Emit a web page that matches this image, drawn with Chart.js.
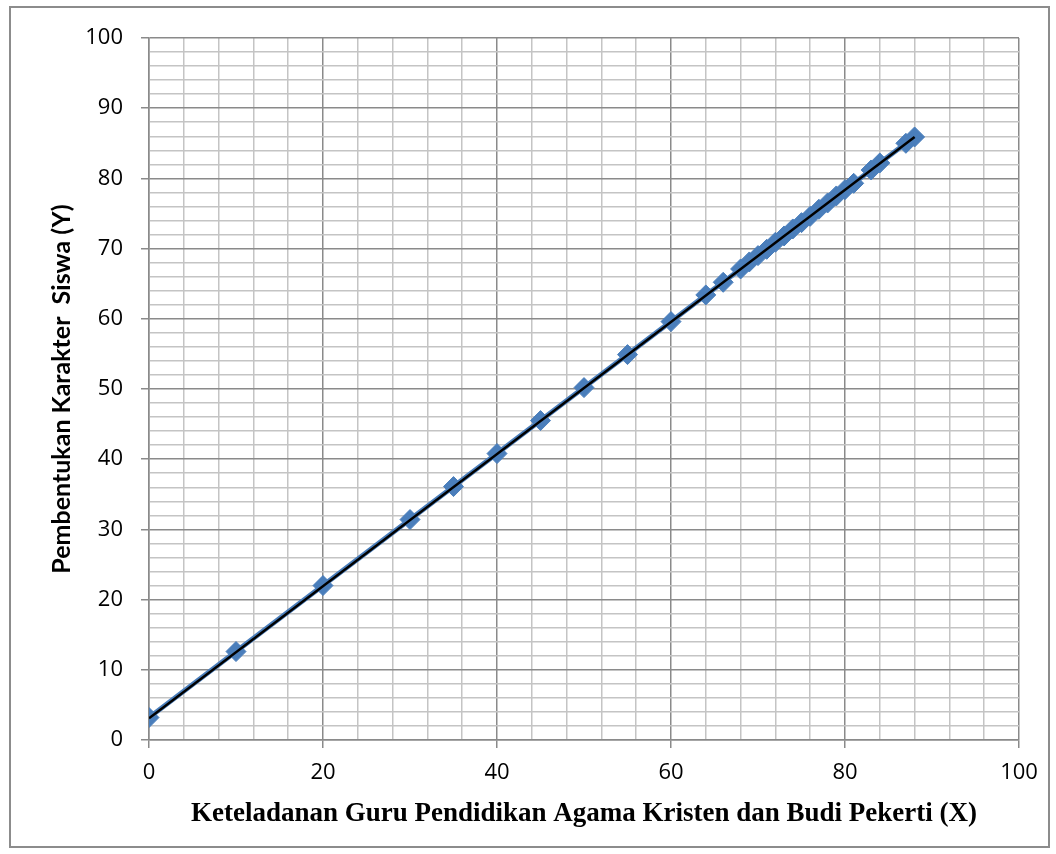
<!DOCTYPE html>
<html>
<head>
<meta charset="utf-8">
<script src="https://cdn.jsdelivr.net/npm/chart.js@4"></script>
<style>
  html, body { margin: 0; padding: 0; background: #fff; }
  #wrap { position: relative; width: 1056px; height: 854px; }
  #frame { position: absolute; left: 9px; top: 6px; width: 1041px; height: 842px; border: 2px solid #8c8c8c; box-sizing: border-box; }
  canvas { position: absolute; left: 0; top: 0; }
</style>
</head>
<body>
<div id="wrap">
  <div id="frame"></div>
  <canvas id="chart" width="1056" height="854"></canvas>
</div>
<script>
// values
const xValues = [0, 10, 20, 30, 35, 40, 45, 50, 55, 60, 64, 66, 68, 69, 70, 71, 72, 73, 74, 75, 76, 77, 78, 79, 80, 81, 83, 84, 87, 88];
const yValues = [3.2, 12.6, 22.0, 31.4, 36.1, 40.8, 45.5, 50.2, 54.9, 59.6, 63.4, 65.2, 67.1, 68.1, 69.0, 69.9, 70.9, 71.8, 72.8, 73.7, 74.6, 75.6, 76.5, 77.5, 78.4, 79.3, 81.2, 82.2, 85.0, 85.9];
const trendX = [0, 88];
const trendY = [3.1, 85.9];

const xLabelStep = 20;
const yLabelStep = 10;

const BLUE  = '#4a7ebb';
const MAJOR = '#8a8a8a';
const MINOR = '#c4c4c4';
const tickFont = { family: 'Open Sans', size: 22 };

function gridColour(step) {
  return ctx => (ctx.tick && ctx.tick.value % step === 0) ? MAJOR : MINOR;
}
function markColour(step) {
  return ctx => (ctx.tick && ctx.tick.value % step === 0) ? MAJOR : 'rgba(0,0,0,0)';
}

new Chart(document.getElementById('chart'), {
  type: 'scatter',
  data: {
    datasets: [
      {
        type: 'line',
        label: 'Trend',
        data: trendX.map((x, i) => ({ x, y: trendY[i] })),
        borderColor: '#000',
        borderWidth: 2.5,
        pointRadius: 0,
        fill: false,
        order: 0,
      },
      {
        label: 'Data',
        data: xValues.map((x, i) => ({ x, y: yValues[i] })),
        showLine: true,
        borderColor: BLUE,
        borderWidth: 5,
        pointStyle: 'rectRot',
        pointRadius: 10,
        pointBackgroundColor: BLUE,
        pointBorderColor: BLUE,
        pointBorderWidth: 1,
        order: 1,
      },
    ],
  },
  options: {
    responsive: false,
    animation: false,
    layout: { padding: { left: 0, top: 38, right: 37, bottom: 0 } },
    plugins: { legend: { display: false }, tooltip: { enabled: false } },
    scales: {
      x: {
        type: 'linear',
        min: 0, max: 100,
        afterFit: s => { s.height = 114; },
        ticks: {
          stepSize: 4,
          autoSkip: false,
          maxRotation: 0,
          padding: 12,
          color: '#000',
          font: tickFont,
          callback: v => v % xLabelStep === 0 ? v : '',
        },
        grid: { color: gridColour(xLabelStep), tickColor: markColour(xLabelStep), lineWidth: 1.5, tickLength: 8 },
        border: { color: MAJOR, width: 1.5 },
        title: {
          display: true,
          text: 'Keteladanan Guru Pendidikan Agama Kristen dan Budi Pekerti (X)',
          color: '#000',
          font: { family: 'Liberation Serif', size: 27, weight: 'bold' },
          padding: { top: 0, bottom: 24 },
        },
      },
      y: {
        type: 'linear',
        min: 0, max: 100,
        afterFit: s => { s.width = 149; },
        ticks: {
          stepSize: 2,
          autoSkip: false,
          maxTicksLimit: 100,
          padding: 18,
          color: '#000',
          font: tickFont,
          callback: v => v % yLabelStep === 0 ? v : '',
        },
        grid: { color: gridColour(yLabelStep), tickColor: markColour(yLabelStep), lineWidth: 1.5, tickLength: 8 },
        border: { color: MAJOR, width: 1.5 },
        title: {
          display: true,
          text: 'Pembentukan Karakter  Siswa (Y)',
          color: '#000',
          font: { family: 'Lato', size: 25, weight: 'bold' },
          padding: { top: 47, bottom: 0 },
        },
      },
    },
  },
});
</script>
</body>
</html>
